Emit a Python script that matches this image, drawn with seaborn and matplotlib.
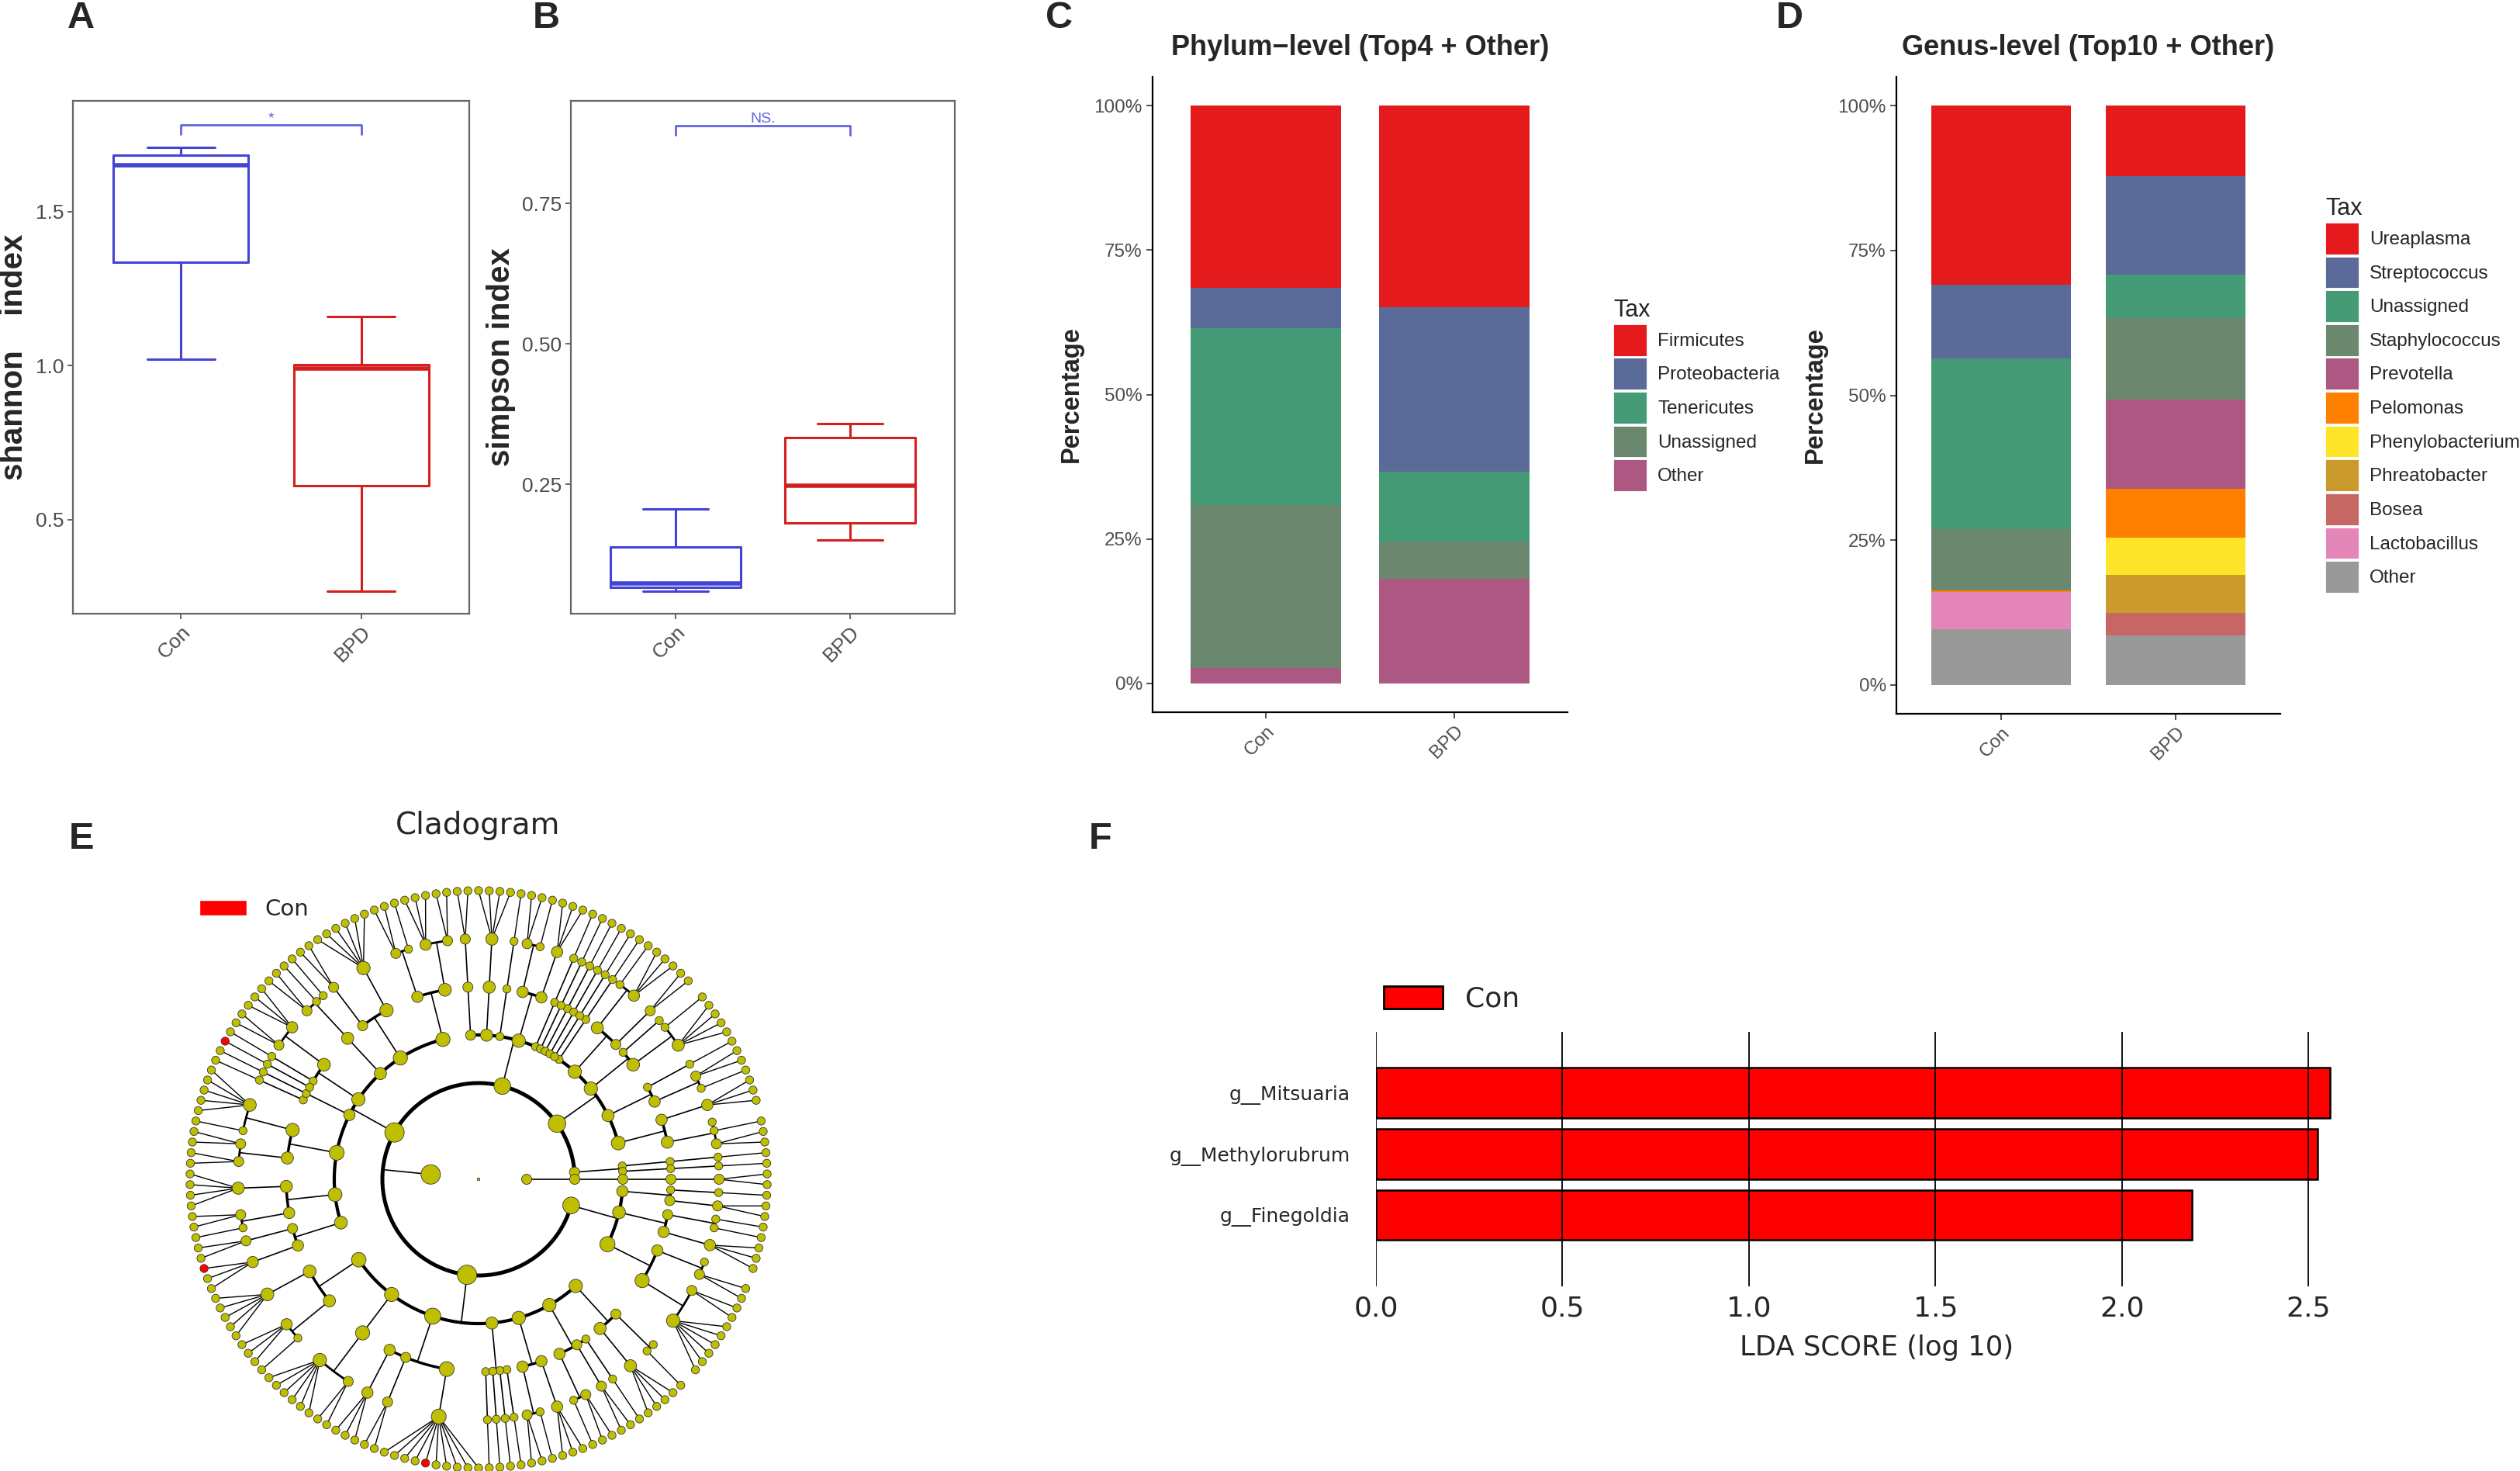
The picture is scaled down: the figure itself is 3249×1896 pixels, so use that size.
import numpy as np
import pandas as pd
import matplotlib
matplotlib.use("Agg")
import matplotlib.pyplot as plt
from matplotlib.patches import Patch
import seaborn as sns

# ---------------- data ----------------
groups = ["Con", "BPD"]

# alpha diversity (five-number summaries)
shannon_con = [1.020, 1.335, 1.650, 1.683, 1.709]
shannon_bpd = [0.268, 0.611, 0.990, 1.004, 1.160]
simpson_con = [0.060, 0.067, 0.074, 0.139, 0.206]
simpson_bpd = [0.151, 0.182, 0.248, 0.333, 0.358]

# phylum level composition (%)
phylum_tax = ["Firmicutes", "Proteobacteria", "Tenericutes", "Unassigned", "Other"]
phylum_con = [31.5, 7.0, 30.7, 28.2, 2.6]
phylum_bpd = [34.9, 28.5, 12.0, 6.5, 18.1]

# genus level composition (%)
genus_tax = ["Ureaplasma", "Streptococcus", "Unassigned", "Staphylococcus", "Prevotella",
             "Pelomonas", "Phenylobacterium", "Phreatobacter", "Bosea", "Lactobacillus", "Other"]
genus_con = [30.9, 12.7, 29.5, 10.6, 0.0, 0.3, 0.0, 0.0, 0.0, 6.4, 9.6]
genus_bpd = [12.1, 17.1, 7.5, 14.0, 15.5, 8.4, 6.4, 6.6, 3.9, 0.0, 8.5]

# LEfSe
lda_taxa = ["g__Mitsuaria", "g__Methylorubrum", "g__Finegoldia"]
lda_scores = [2.559, 2.525, 2.187]

# cladogram taxonomy: phylum -> classes -> orders -> genera per family
unassigned_kingdom = [[[[2]]]]
phylum_a = [[[1]], [[1]]]
phylum_b = [[[2, 1, 0], [3]], [[1, 2], [1]], [[4, 1], [0]], [[2], [3, 1]], [[1]]]
phylum_c = [[[1]], [[1]], [[1]], [[1]], [[1]], [[3], [1, 2]], [[1]], [[4]], [[2]]]
phylum_d = [[[2, 3], [1, 2]], [[6], [2]], [[1, 1, 2]], [[3, 2], [1]], [[1], [1], [1]],
            [[5, 1], [2, 2]], [[4], [2, 1]], [[2], [3]]]
phylum_e = [[[5], [3, 1]], [[6, 2]], [[3], [2], [10]], [[1], [1], [1], [1]],
            [[2, 1], [3]], [[1, 2], [2], [1]], [[4], [1, 0]]]
phylum_f = [[[6, 2], [2, 0]], [[3], [1, 1]], [[2], [1]]]
bacteria_kingdom = [phylum_a, phylum_b, phylum_c, phylum_d, phylum_e, phylum_f]
con_leaves = [72, 94, 123]   # terminal taxa enriched in Con

# ---------------- style ----------------
box_colors = {"Con": "#4343D4", "BPD": "#D41F1F"}
bracket_color = "#6464DC"
phylum_colors = ["#E41A1C", "#5A6A99", "#449B76", "#6B886E", "#AD5882"]
genus_colors = ["#E41A1C", "#5A6A99", "#449B76", "#6B886E", "#AD5882", "#FF7F00",
                "#FFE529", "#CA9A2C", "#C66764", "#E486B7", "#999999"]
grey30 = "#4D4D4D"

sns.set_style("white")
plt.rcParams["font.family"] = ["Liberation Sans", "DejaVu Sans"]

W, H = 3249, 1896
fig = plt.figure(figsize=(W / 100, H / 100), dpi=100)
fig.patch.set_facecolor("white")


def box(l, t, r, b):
    return [l / W, 1 - b / H, (r - l) / W, (b - t) / H]


# ---------------- A / B boxplots ----------------
box_df = pd.DataFrame({
    "group": np.repeat(groups, 5),
    "shannon": shannon_con + shannon_bpd,
    "simpson": simpson_con + simpson_bpd,
})


def alpha_box(rect, col, ylabel, ylim, yticks, fmt, brk, sig):
    ax = fig.add_axes(box(*rect))
    sns.boxplot(data=box_df, x="group", y=col, hue="group", order=groups,
                palette=box_colors, fill=False, width=0.75, linewidth=2.2,
                medianprops=dict(linewidth=4), showfliers=False,
                legend=False, ax=ax)
    y0, y1 = brk
    ax.plot([0, 0, 1, 1], [y1, y0, y0, y1], color=bracket_color, lw=2)
    ax.text(0.5, y0, sig, color=bracket_color, ha="center", va="bottom", fontsize=14)
    ax.set_xlim(-0.6, 1.6)
    ax.set_ylim(*ylim)
    ax.set_yticks(yticks)
    ax.set_yticklabels([fmt.format(v) for v in yticks])
    ax.set_xlabel("")
    ax.set_ylabel(ylabel, fontsize=29, fontweight="bold", labelpad=6)
    for s in ax.spines.values():
        s.set_visible(True)
        s.set_color("#666666")
        s.set_linewidth(1.6)
    ax.tick_params(axis="both", direction="out", length=5, width=1.2,
                   color=grey30, labelcolor=grey30, labelsize=19, left=True, bottom=True)
    plt.setp(ax.get_xticklabels(), rotation=45, ha="right", rotation_mode="anchor")
    return ax


alpha_box((94, 130, 605, 791), "shannon", "shannon    index", (0.195, 1.859),
          [0.5, 1.0, 1.5], "{:.1f}", (1.781, 1.751), "*")
alpha_box((736, 130, 1231, 791), "simpson", "simpson index", (0.020, 0.933),
          [0.25, 0.50, 0.75], "{:.2f}", (0.889, 0.872), "NS.")


# ---------------- C / D stacked bars ----------------
def stacked(rect, tax, con, bpd, colors, title, legend_x):
    ax = fig.add_axes(box(*rect))
    df = pd.DataFrame({"Tax": tax * 2,
                       "group": ["Con"] * len(tax) + ["BPD"] * len(tax),
                       "pct": con + bpd})
    df["top"] = df.groupby("group")["pct"].transform(lambda s: s[::-1].cumsum()[::-1])
    for t, c in zip(tax, colors):
        sns.barplot(data=df[df["Tax"] == t], x="group", y="top", order=groups,
                    color=c, saturation=1, width=0.8, errorbar=None,
                    linewidth=0, ax=ax)
    ax.set_xlim(-0.6, 1.6)
    ax.set_ylim(-5, 105)
    ax.set_yticks([0, 25, 50, 75, 100])
    ax.set_yticklabels(["0%", "25%", "50%", "75%", "100%"])
    ax.set_xlabel("")
    ax.set_ylabel("Percentage", fontsize=23.5, fontweight="bold", labelpad=10)
    ax.set_title(title, fontsize=26, fontweight="bold", pad=20)
    sns.despine(ax=ax)
    for s in ("left", "bottom"):
        ax.spines[s].set_color("black")
        ax.spines[s].set_linewidth(1.6)
    ax.tick_params(axis="both", direction="out", length=6, width=1.2, color="#333333",
                   labelcolor=grey30, labelsize=17.5, left=True, bottom=True)
    plt.setp(ax.get_xticklabels(), rotation=45, ha="right", rotation_mode="anchor")
    handles = [Patch(facecolor=c, edgecolor="white", lw=0.6) for c in colors]
    fig.legend(handles, tax, title="Tax", loc="center left",
               bbox_to_anchor=(legend_x / W, 1 - 509 / H), frameon=False,
               fontsize=17.5, title_fontsize=22, handlelength=1.75, handleheight=2.2,
               labelspacing=0.12, handletextpad=0.6, borderpad=0, alignment="left")
    return ax


stacked((1486, 99, 2021, 918), phylum_tax, phylum_con, phylum_bpd, phylum_colors,
        "Phylum\u2212level (Top4 + Other)", 2068)
stacked((2445, 99, 2940, 920), genus_tax, genus_con, genus_bpd, genus_colors,
        "Genus-level (Top10 + Other)", 2986)


# ---------------- E cladogram ----------------
def build(spec, depth):
    if isinstance(spec, int):
        kids = [{"depth": depth + 1, "kids": []} for _ in range(spec)]
    else:
        kids = [build(s, depth + 1) for s in spec]
    return {"depth": depth, "kids": kids}


tree = build([unassigned_kingdom, bacteria_kingdom], 0)

leaves = []


def collect(n):
    if not n["kids"]:
        leaves.append(n)
    for k in n["kids"]:
        collect(k)


collect(tree)
step = 2 * np.pi / len(leaves)
for i, n in enumerate(leaves):
    n["ang"] = (i - 0.5) * step
    n["n"] = 1
    n["con"] = i in con_leaves


def place(n):
    if n["kids"]:
        for k in n["kids"]:
            place(k)
        n["ang"] = 0.5 * (n["kids"][0]["ang"] + n["kids"][-1]["ang"])
        n["n"] = sum(k["n"] for k in n["kids"])
        n["con"] = False


place(tree)


def xy(ang, r):
    return r * np.cos(ang), r * np.sin(ang)


axE = fig.add_axes(box(217, 1120, 1017, 1920))
arc_lw = {2: 3.6, 3: 3.0, 4: 2.5, 5: 2.0}
nodes = []


def draw(n):
    r = n["depth"]
    x, y = xy(n["ang"], r) if r > 0 else (0.0, 0.0)
    ms = 2.5 if r == 0 else min(7.5 + 1.9 * np.log2(n["n"]), 18.0)
    nodes.append({"x": x, "y": y, "s": ms ** 2, "cls": "Con" if n["con"] else "none"})
    if not n["kids"] or r == 0:
        for k in n["kids"]:
            draw(k)
        return
    rc = r + 1
    if rc <= 5:
        axE.plot(*zip(xy(n["ang"], r), xy(n["ang"], rc)), color="black", lw=1.2, zorder=1)
        a = np.linspace(n["kids"][0]["ang"], n["kids"][-1]["ang"], 200)
        axE.plot(rc * np.cos(a), rc * np.sin(a), color="black", lw=arc_lw[rc],
                 solid_capstyle="butt", zorder=1)
    else:
        for k in n["kids"]:
            axE.plot(*zip((x, y), xy(k["ang"], rc)), color="black", lw=1.0, zorder=1)
    for k in n["kids"]:
        draw(k)


draw(tree)
node_df = pd.DataFrame(nodes).sort_values("cls", ascending=False)
sns.scatterplot(data=node_df, x="x", y="y", hue="cls", s=node_df["s"].values,
                palette={"none": "#BFBF00", "Con": "#FF0000"}, edgecolor="#333333",
                linewidth=0.6, legend=False, zorder=3, ax=axE)
axE.set_xlim(-6.45, 6.45)
axE.set_ylim(-6.45, 6.45)
axE.set_aspect("equal")
axE.axis("off")
fig.text(616 / W, 1 - 1064 / H, "Cladogram", fontsize=28, ha="center", va="center",
         family="DejaVu Sans")
fig.legend([Patch(facecolor="#FF0000")], ["Con"], loc="center left",
           bbox_to_anchor=(242 / W, 1 - 1172 / H), frameon=False,
           prop={"family": "DejaVu Sans", "size": 21}, handlelength=2.1,
           handleheight=0.7, handletextpad=0.8, borderpad=0)

# ---------------- F LDA bars ----------------
axF = fig.add_axes(box(1774, 1330, 3066, 1658))
sns.barplot(x=lda_scores, y=lda_taxa, orient="h", color="#FF0000", saturation=1,
            edgecolor="black", linewidth=1.8, width=0.82, errorbar=None, ax=axF)
axF.set_xlim(0, max(lda_scores) * 1.05)
axF.set_ylim(3.17, -1.0)
axF.set_xticks([0, 0.5, 1.0, 1.5, 2.0, 2.5])
axF.set_xticklabels(["0.0", "0.5", "1.0", "1.5", "2.0", "2.5"], family="DejaVu Sans")
axF.set_yticks(range(len(lda_taxa)))
axF.set_yticklabels(lda_taxa, family="DejaVu Sans")
axF.xaxis.grid(True, color="black", lw=1.3)
axF.set_axisbelow(False)
for s in axF.spines.values():
    s.set_visible(False)
axF.tick_params(axis="x", length=0, labelsize=26, pad=8)
axF.tick_params(axis="y", length=0, labelsize=18, pad=24)
axF.set_xlabel("LDA SCORE (log 10)", fontsize=25.5, family="DejaVu Sans", labelpad=12)
axF.set_ylabel("")
fig.legend([Patch(facecolor="#FF0000", edgecolor="black", lw=2)], ["Con"],
           loc="center left", bbox_to_anchor=(1766 / W, 1 - 1288 / H), frameon=False,
           prop={"family": "DejaVu Sans", "size": 26}, handlelength=2.1,
           handleheight=0.85, handletextpad=0.8, borderpad=0)

# ---------------- panel letters ----------------
for letter, (lx, ly) in {"A": (87, 5), "B": (687, 5), "C": (1348, 5), "D": (2290, 5),
                         "E": (89, 1063), "F": (1404, 1063)}.items():
    fig.text(lx / W, 1 - (ly - 4) / H, letter, fontsize=35, fontweight="bold",
             ha="left", va="top")

fig.savefig("out.png", dpi=100, facecolor="white")
